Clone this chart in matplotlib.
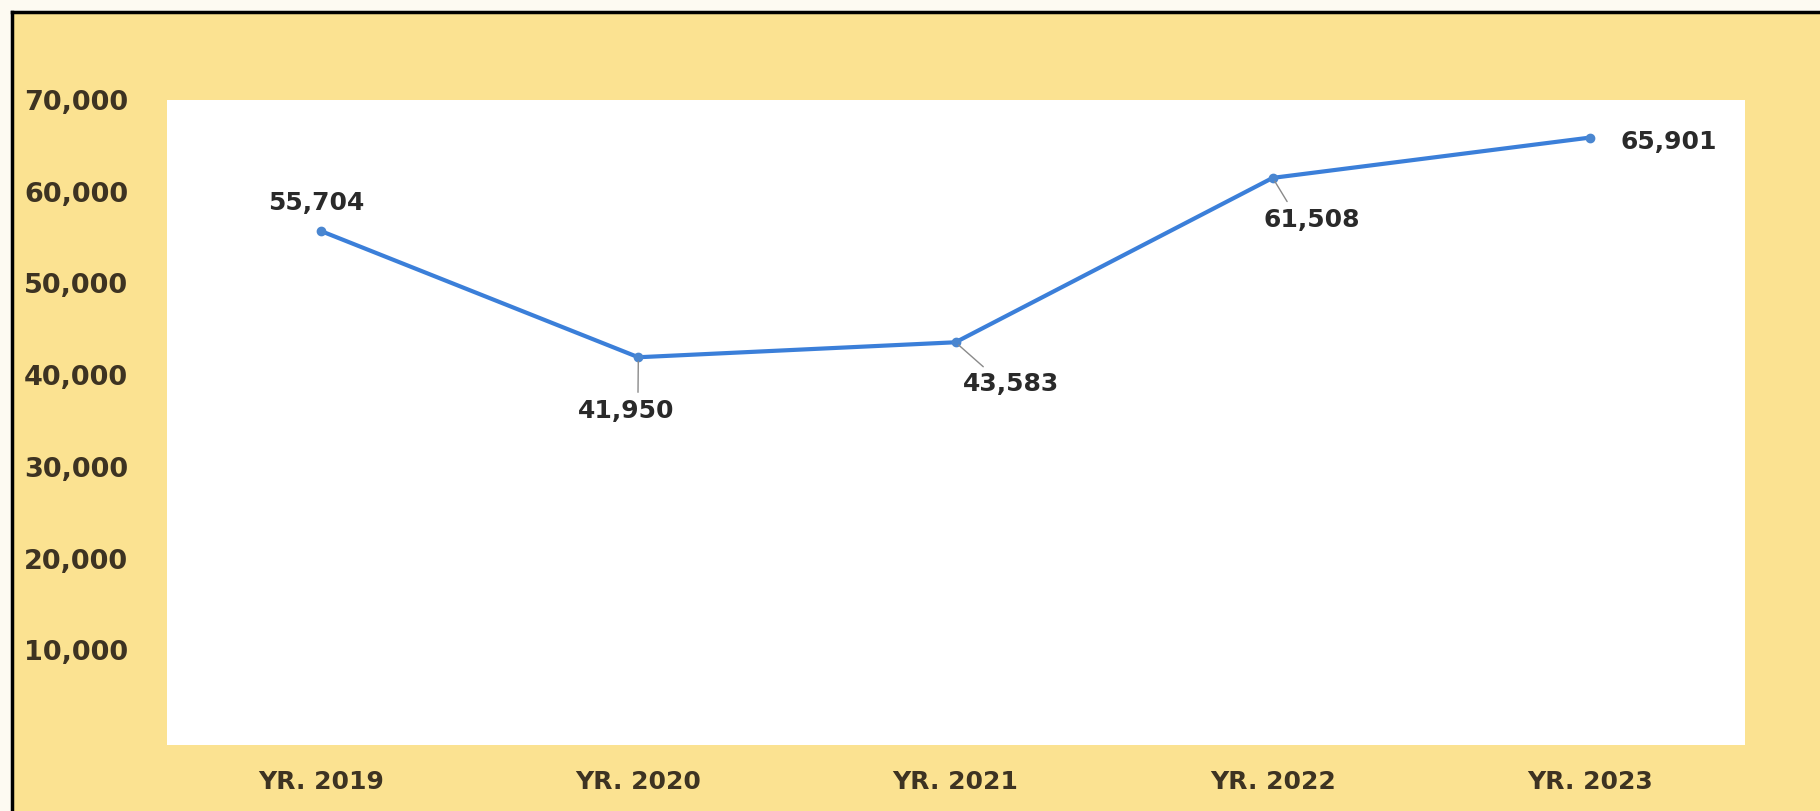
import matplotlib
matplotlib.use("Agg")
import matplotlib.pyplot as plt
from matplotlib.patches import Rectangle
from matplotlib.lines import Line2D

categories = ["YR. 2019", "YR. 2020", "YR. 2021", "YR. 2022", "YR. 2023"]
values = [55704, 41950, 43583, 61508, 65901]
y_ticks = [10000, 20000, 30000, 40000, 50000, 60000, 70000]
# label offsets (pixels) relative to each point, and leader-line anchor on the label (None = no leader)
label_offsets = [(-5, 28), (-12, -54), (56, -42), (39, -42), (79, -4)]
leader_anchor = [None, (0.62, 0.9), (0.3, 0.9), (0.3, 0.9), None]

W, H = 1820, 811
fig = plt.figure(figsize=(W / 100, H / 100), dpi=100, facecolor="#fdfaf2")

# yellow panel with black top/left border
fig.patches.append(Rectangle((12 / W, 0), 1 - 12 / W, 1 - 12 / H, transform=fig.transFigure,
                             facecolor="#fbe291", edgecolor="none", zorder=-10))
fig.lines.append(Line2D([12 / W, 1], [1 - 12 / H, 1 - 12 / H], transform=fig.transFigure,
                        color="black", lw=2.5, zorder=-5))
fig.lines.append(Line2D([12 / W, 12 / W], [0, 1 - 12 / H], transform=fig.transFigure,
                        color="black", lw=2.5, zorder=-5))

left, right, top, bottom = 167, 1745, 100, 745
ax = fig.add_axes([left / W, (H - bottom) / H, (right - left) / W, (bottom - top) / H])
ax.set_zorder(1)
ax.set_facecolor("white")
for s in ax.spines.values():
    s.set_visible(False)

x = list(range(len(categories)))
ax.plot(x, values, color="#3b7fd9", lw=3.0, marker="o", markersize=6,
        markerfacecolor="#4a86d0", markeredgecolor="#4a86d0", zorder=3)

for xi, v, (dx, dy), anc in zip(x, values, label_offsets, leader_anchor):
    ap = None
    if anc is not None:
        ap = dict(arrowstyle="-", color="#8a8a8a", lw=1.0, relpos=anc, shrinkA=3, shrinkB=3)
    ax.annotate(f"{v:,}", xy=(xi, v), xytext=(dx, dy), textcoords="offset pixels",
                ha="center", va="center", fontsize=18, fontweight="bold", color="#2a2a2a",
                arrowprops=ap, zorder=4)

ax.set_xlim(-0.486, 4.489)
ax.set_ylim(-330, 69800)
ax.set_xticks(x)
ax.set_xticklabels(categories)
ax.set_yticks(y_ticks)
ax.set_yticklabels([f"{t:,}" for t in y_ticks])
ax.tick_params(axis="both", length=0, labelcolor="#3d3322")
ax.tick_params(axis="y", pad=28, labelsize=19.5)
ax.tick_params(axis="x", pad=18, labelsize=18)
for lab in ax.get_xticklabels() + ax.get_yticklabels():
    lab.set_fontweight("bold")

fig.savefig("out.png", dpi=100, facecolor=fig.get_facecolor())
